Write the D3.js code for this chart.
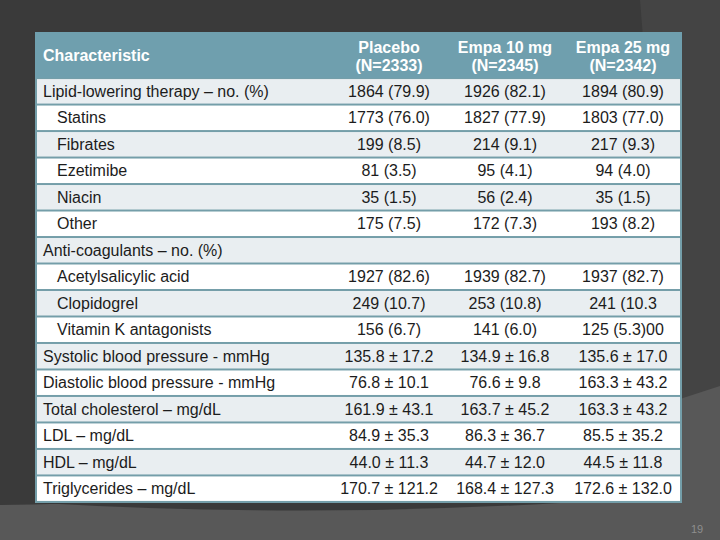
<!DOCTYPE html>
<html><head><meta charset="utf-8">
<script src="https://cdn.jsdelivr.net/npm/d3@7"></script>
<style>html,body{margin:0;padding:0;background:#3a3a3a;}svg{display:block;}</style>
</head><body>
<svg id="c" width="720" height="540"></svg>
<script>
const headerLabel = "Characteristic";
const groups = ["Placebo", "Empa 10 mg", "Empa 25 mg"];
const groupN = ["(N=2333)", "(N=2345)", "(N=2342)"];
const rowLabels = ["Lipid-lowering therapy – no. (%)", "Statins", "Fibrates", "Ezetimibe", "Niacin", "Other",
  "Anti-coagulants – no. (%)", "Acetylsalicylic acid", "Clopidogrel", "Vitamin K antagonists",
  "Systolic blood pressure - mmHg", "Diastolic blood pressure - mmHg", "Total cholesterol – mg/dL",
  "LDL – mg/dL", "HDL – mg/dL", "Triglycerides – mg/dL"];
const indented = [false, true, true, true, true, true, false, true, true, true, false, false, false, false, false, false];
const placebo = ["1864 (79.9)", "1773 (76.0)", "199 (8.5)", "81 (3.5)", "35 (1.5)", "175 (7.5)", "",
  "1927 (82.6)", "249 (10.7)", "156 (6.7)", "135.8 ± 17.2", "76.8 ± 10.1", "161.9 ± 43.1", "84.9 ± 35.3", "44.0 ± 11.3", "170.7 ± 121.2"];
const empa10 = ["1926 (82.1)", "1827 (77.9)", "214 (9.1)", "95 (4.1)", "56 (2.4)", "172 (7.3)", "",
  "1939 (82.7)", "253 (10.8)", "141 (6.0)", "134.9 ± 16.8", "76.6 ± 9.8", "163.7 ± 45.2", "86.3 ± 36.7", "44.7 ± 12.0", "168.4 ± 127.3"];
const empa25 = ["1894 (80.9)", "1803 (77.0)", "217 (9.3)", "94 (4.0)", "35 (1.5)", "193 (8.2)", "",
  "1937 (82.7)", "241 (10.3", "125 (5.3)00", "135.6 ± 17.0", "163.3 ± 43.2", "163.3 ± 43.2", "85.5 ± 35.2", "44.5 ± 11.8", "172.6 ± 132.0"];
const pageNumber = "19";

const svg = d3.select("#c");
const font = "'Liberation Sans', Arial, sans-serif";

// background decoration
svg.append("rect").attr("width", 720).attr("height", 540).attr("fill", "#3a3a3a");
svg.append("path").attr("d", "M640,0 L720,0 L720,540 L683,540 Z").attr("fill", "#444444");
svg.append("path").attr("d", "M0,505 Q420,500 683,398 L720,386 L720,540 L0,540 Z").attr("fill", "#585858");
svg.append("path").attr("d", "M40,503 Q300,518 560,503 Z").attr("fill", "#333333").attr("opacity", 0.8);

// table geometry
const tx0 = 35, tx1 = 682, ty0 = 32, headerBottom = 78, ty1 = 503;
const cols = [headerLabel].concat(groups);
const colCenter = d3.scaleOrdinal().domain(groups).range([389, 505, 623]);
const y = d3.scaleBand().domain(d3.range(rowLabels.length)).range([headerBottom, ty1 - 1]).paddingInner(0.075).paddingOuter(0.04);

svg.append("rect").attr("x", tx0).attr("y", ty0).attr("width", tx1 - tx0).attr("height", ty1 - ty0).attr("fill", "#749ea9");
svg.append("rect").attr("x", tx0).attr("y", ty0).attr("width", tx1 - tx0).attr("height", headerBottom - ty0).attr("fill", "#6f9fae");

const rows = svg.append("g").selectAll("g").data(rowLabels).join("g");
rows.append("rect")
  .attr("x", tx0 + 2).attr("width", tx1 - tx0 - 4)
  .attr("y", (d, i) => y(i)).attr("height", y.bandwidth())
  .attr("fill", (d, i) => i % 2 === 0 ? "#e9eef1" : "#ffffff");
rows.append("text")
  .attr("x", (d, i) => indented[i] ? 57 : 43)
  .attr("y", (d, i) => y(i) + y.bandwidth() / 2 + 5.5)
  .attr("font-family", font).attr("font-size", 16).attr("fill", "#1c1c1c")
  .text(d => d);

const series = [placebo, empa10, empa25];
series.forEach((vals, k) => {
  svg.append("g").selectAll("text").data(vals).join("text")
    .attr("x", colCenter(groups[k]))
    .attr("y", (d, i) => y(i) + y.bandwidth() / 2 + 5.5)
    .attr("text-anchor", "middle")
    .attr("font-family", font).attr("font-size", 16).attr("fill", "#1c1c1c")
    .text(d => d);
});

// header
svg.append("text").attr("x", 43).attr("y", 61).attr("font-family", font).attr("font-size", 16)
  .attr("font-weight", "bold").attr("fill", "#ffffff").text(headerLabel);
const hdr = svg.append("g").selectAll("g").data(groups).join("g");
hdr.append("text").attr("x", d => colCenter(d)).attr("y", 53).attr("text-anchor", "middle")
  .attr("font-family", font).attr("font-size", 16).attr("font-weight", "bold").attr("fill", "#ffffff").text(d => d);
hdr.append("text").attr("x", d => colCenter(d)).attr("y", 71).attr("text-anchor", "middle")
  .attr("font-family", font).attr("font-size", 16).attr("font-weight", "bold").attr("fill", "#ffffff").text((d, i) => groupN[i]);

svg.append("text").attr("x", 697).attr("y", 533).attr("text-anchor", "middle")
  .attr("font-family", font).attr("font-size", 11).attr("fill", "#8e8e8e").text(pageNumber);
</script>
</body></html>
